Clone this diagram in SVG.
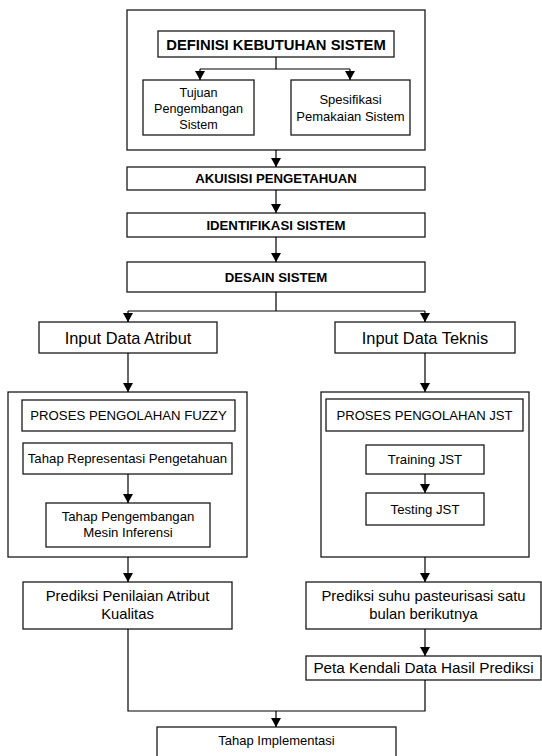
<svg xmlns="http://www.w3.org/2000/svg" width="542" height="756" viewBox="0 0 542 756">
<defs>
<marker id="ah" markerUnits="userSpaceOnUse" markerWidth="9" markerHeight="10" refX="9" refY="5" orient="auto">
<path d="M0,0 L9,5 L0,10 z" fill="#000"/>
</marker>
<style>
rect{fill:#fff;stroke:#1a1a1a;stroke-width:1.3}
text{font-family:"Liberation Sans",Arial,sans-serif;fill:#000;text-anchor:middle}
.b{font-weight:bold}
#connectors path{fill:none;stroke:#000;stroke-width:1.2}
</style>
</defs>
<rect x="0" y="0" width="542" height="756" style="fill:#fff;stroke:none"/>
<g id="definisi-group">
<rect x="127" y="10" width="298" height="140"/>
</g>
<g id="definisi">
<rect x="158" y="31" width="236" height="26"/>
<text class="b" x="276" y="49.5" font-size="14.8">DEFINISI KEBUTUHAN SISTEM</text>
</g>
<g id="tujuan">
<rect x="143" y="80" width="111" height="55"/>
<text x="198.5" y="97" font-size="12.6">Tujuan</text>
<text x="198.5" y="113" font-size="12.6">Pengembangan</text>
<text x="198.5" y="129" font-size="12.6">Sistem</text>
</g>
<g id="spesifikasi">
<rect x="291" y="80" width="119" height="55"/>
<text x="350.5" y="104" font-size="13">Spesifikasi</text>
<text x="350.5" y="121" font-size="13">Pemakaian Sistem</text>
</g>
<g id="akuisisi">
<rect x="127" y="167" width="298" height="23"/>
<text class="b" x="276" y="183" font-size="13.2">AKUISISI PENGETAHUAN</text>
</g>
<g id="identifikasi">
<rect x="127" y="213" width="298" height="24"/>
<text class="b" x="276" y="229.5" font-size="13.2">IDENTIFIKASI SISTEM</text>
</g>
<g id="desain">
<rect x="127" y="262" width="298" height="30"/>
<text class="b" x="276" y="281.5" font-size="13.2">DESAIN SISTEM</text>
</g>
<g id="input-atribut">
<rect x="39" y="322" width="178" height="31"/>
<text x="128" y="343.5" font-size="16.4">Input Data Atribut</text>
</g>
<g id="input-teknis">
<rect x="335" y="322" width="180" height="31"/>
<text x="425" y="343.5" font-size="16.4">Input Data Teknis</text>
</g>
<g id="fuzzy-group">
<rect x="8" y="392" width="239" height="165"/>
</g>
<g id="proses-fuzzy">
<rect x="22" y="400" width="213" height="31"/>
<text x="128.5" y="420" font-size="13.2">PROSES PENGOLAHAN FUZZY</text>
</g>
<g id="representasi">
<rect x="23" y="443" width="209" height="31"/>
<text x="127.5" y="463" font-size="13.2">Tahap Representasi Pengetahuan</text>
</g>
<g id="pengembangan-mesin">
<rect x="46" y="503" width="164" height="44"/>
<text x="128" y="521" font-size="13.2">Tahap Pengembangan</text>
<text x="128" y="537" font-size="13.2">Mesin Inferensi</text>
</g>
<g id="jst-group">
<rect x="321" y="392" width="208" height="165"/>
</g>
<g id="proses-jst">
<rect x="326" y="399" width="197" height="32"/>
<text x="424.5" y="420" font-size="13.1">PROSES PENGOLAHAN JST</text>
</g>
<g id="training">
<rect x="366" y="445" width="118" height="29"/>
<text x="425" y="464" font-size="13.2">Training JST</text>
</g>
<g id="testing">
<rect x="366" y="493" width="118" height="32"/>
<text x="425" y="513.5" font-size="13.2">Testing JST</text>
</g>
<g id="prediksi-atribut">
<rect x="23" y="582" width="209" height="47"/>
<text x="127.5" y="601" font-size="14.8">Prediksi Penilaian Atribut</text>
<text x="127.5" y="619" font-size="14.8">Kualitas</text>
</g>
<g id="prediksi-suhu">
<rect x="306" y="582" width="235" height="47"/>
<text x="423.5" y="601" font-size="14.8">Prediksi suhu pasteurisasi satu</text>
<text x="423.5" y="619" font-size="14.8">bulan berikutnya</text>
</g>
<g id="peta-kendali">
<rect x="306" y="656" width="235" height="24"/>
<text x="423.5" y="673" font-size="15.3">Peta Kendali Data Hasil Prediksi</text>
</g>
<g id="implementasi">
<rect x="157" y="727" width="239" height="40"/>
<text x="276.5" y="745" font-size="13">Tahap Implementasi</text>
</g>
<g id="connectors">
<path d="M276,57 V69 M200,69 H350"/>
<path d="M200,69 V80" marker-end="url(#ah)"/>
<path d="M350,69 V80" marker-end="url(#ah)"/>
<path d="M276,150 V167" marker-end="url(#ah)"/>
<path d="M276,190 V213" marker-end="url(#ah)"/>
<path d="M276,237 V262" marker-end="url(#ah)"/>
<path d="M276,292 V311 M128,311 H425"/>
<path d="M128,311 V322" marker-end="url(#ah)"/>
<path d="M425,311 V322" marker-end="url(#ah)"/>
<path d="M128,353 V392" marker-end="url(#ah)"/>
<path d="M425,353 V392" marker-end="url(#ah)"/>
<path d="M128,474 V503" marker-end="url(#ah)"/>
<path d="M425,474 V493" marker-end="url(#ah)"/>
<path d="M128,557 V582" marker-end="url(#ah)"/>
<path d="M425,557 V582" marker-end="url(#ah)"/>
<path d="M425,629 V656" marker-end="url(#ah)"/>
<path d="M128,629 V711 H425 V680"/>
<path d="M276,711 V727" marker-end="url(#ah)"/>
</g>
</svg>
